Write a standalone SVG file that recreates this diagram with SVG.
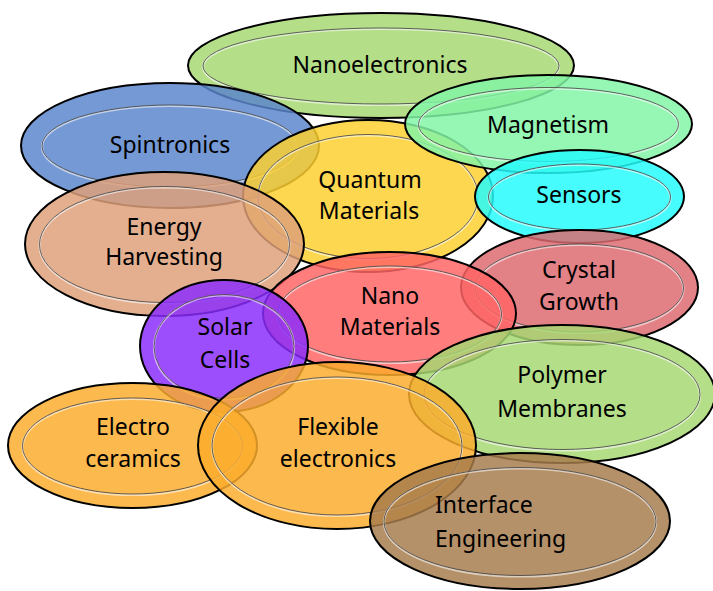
<svg xmlns="http://www.w3.org/2000/svg" width="713" height="591" viewBox="0 0 713 591">
<style>
.o{stroke:#000;stroke-width:2;fill-opacity:0.84}
.h{fill:none;stroke:#fff;stroke-width:2.2;opacity:0.55}
.i{fill:none;stroke:#444;stroke-width:1;opacity:0.85}
text{font-family:"Segoe Print","Comic Sans MS","Noto Sans","DejaVu Sans",sans-serif;font-size:23px;fill:#000;text-anchor:middle}
</style>
<rect width="713" height="591" fill="#fff"/>
<g id="nanoelectronics">
<ellipse class="o" cx="381" cy="65.5" rx="193" ry="52.5" fill="#a6d871"/>
<ellipse class="h" cx="381" cy="67" rx="178" ry="38"/>
<ellipse class="i" cx="381" cy="66" rx="178" ry="38"/>
<text x="380" y="73">Nanoelectronics</text>
</g>
<g id="spintronics">
<ellipse class="o" cx="170" cy="145.5" rx="149" ry="62.5" fill="#5a86cc"/>
<ellipse class="h" cx="170" cy="147" rx="128" ry="41"/>
<ellipse class="i" cx="170" cy="146" rx="128" ry="41"/>
<text x="170" y="153">Spintronics</text>
</g>
<g id="quantum-materials">
<ellipse class="o" cx="368" cy="196" rx="125" ry="76" fill="#fdcf2e"/>
<ellipse class="h" cx="368" cy="197.5" rx="110" ry="62"/>
<ellipse class="i" cx="368" cy="196.5" rx="110" ry="62"/>
<text x="370" y="188">Quantum</text>
<text x="369" y="219">Materials</text>
</g>
<g id="magnetism">
<ellipse class="o" cx="548.5" cy="124" rx="143.5" ry="49" fill="#82f4a6"/>
<ellipse class="h" cx="548.5" cy="125.5" rx="130" ry="37"/>
<ellipse class="i" cx="548.5" cy="124.5" rx="130" ry="37"/>
<text x="548" y="133">Magnetism</text>
</g>
<g id="sensors">
<ellipse class="o" cx="579.5" cy="196.5" rx="104.5" ry="46.5" fill="#24fcfc"/>
<ellipse class="h" cx="579.5" cy="198" rx="91" ry="33"/>
<ellipse class="i" cx="579.5" cy="197" rx="91" ry="33"/>
<text x="579" y="203">Sensors</text>
</g>
<g id="energy-harvesting">
<ellipse class="o" cx="164.5" cy="244" rx="139.5" ry="72" fill="#dea079"/>
<ellipse class="h" cx="164.5" cy="245.5" rx="125" ry="58"/>
<ellipse class="i" cx="164.5" cy="244.5" rx="125" ry="58"/>
<text x="164" y="235">Energy</text>
<text x="164" y="265">Harvesting</text>
</g>
<g id="crystal-growth">
<ellipse class="o" cx="579.5" cy="287.5" rx="118.5" ry="57.5" fill="#dc6a70"/>
<ellipse class="h" cx="579.5" cy="289" rx="104" ry="44"/>
<ellipse class="i" cx="579.5" cy="288" rx="104" ry="44"/>
<text x="579" y="278">Crystal</text>
<text x="579" y="310">Growth</text>
</g>
<g id="nano-materials">
<ellipse class="o" cx="389.5" cy="313.5" rx="126.5" ry="61.5" fill="#ff6464"/>
<ellipse class="h" cx="389.5" cy="315" rx="112" ry="48"/>
<ellipse class="i" cx="389.5" cy="314" rx="112" ry="48"/>
<text x="390" y="304">Nano</text>
<text x="390" y="335">Materials</text>
</g>
<g id="solar-cells">
<ellipse class="o" cx="224" cy="346" rx="84" ry="66" fill="#8a2cfc"/>
<ellipse class="h" cx="224" cy="347.5" rx="70" ry="52"/>
<ellipse class="i" cx="224" cy="346.5" rx="70" ry="52"/>
<text x="225" y="335">Solar</text>
<text x="225" y="368">Cells</text>
</g>
<g id="polymer-membranes">
<ellipse class="o" cx="562" cy="394" rx="153" ry="69" fill="#a6d871"/>
<ellipse class="h" cx="562" cy="395.5" rx="138" ry="55"/>
<ellipse class="i" cx="562" cy="394.5" rx="138" ry="55"/>
<text x="562" y="383">Polymer</text>
<text x="562" y="417">Membranes</text>
</g>
<g id="electro-ceramics">
<ellipse class="o" cx="132.5" cy="445.5" rx="124.5" ry="62.5" fill="#fbac2c"/>
<ellipse class="h" cx="132.5" cy="447" rx="110" ry="48"/>
<ellipse class="i" cx="132.5" cy="446" rx="110" ry="48"/>
<text x="133" y="435">Electro</text>
<text x="133" y="467">ceramics</text>
</g>
<g id="flexible-electronics">
<ellipse class="o" cx="337" cy="445.5" rx="139" ry="83.5" fill="#fbac2c"/>
<ellipse class="h" cx="337" cy="447" rx="125" ry="69"/>
<ellipse class="i" cx="337" cy="446" rx="125" ry="69"/>
<text x="338" y="435">Flexible</text>
<text x="338" y="467">electronics</text>
</g>
<g id="interface-engineering">
<ellipse class="o" cx="520" cy="521" rx="150" ry="68" fill="#a77c4c"/>
<ellipse class="h" cx="520" cy="522.5" rx="136" ry="54"/>
<ellipse class="i" cx="520" cy="521.5" rx="136" ry="54"/>
<text x="435" y="513" style="text-anchor:start">Interface</text>
<text x="435" y="547" style="text-anchor:start">Engineering</text>
</g>
<g id="connectors"/>
</svg>
